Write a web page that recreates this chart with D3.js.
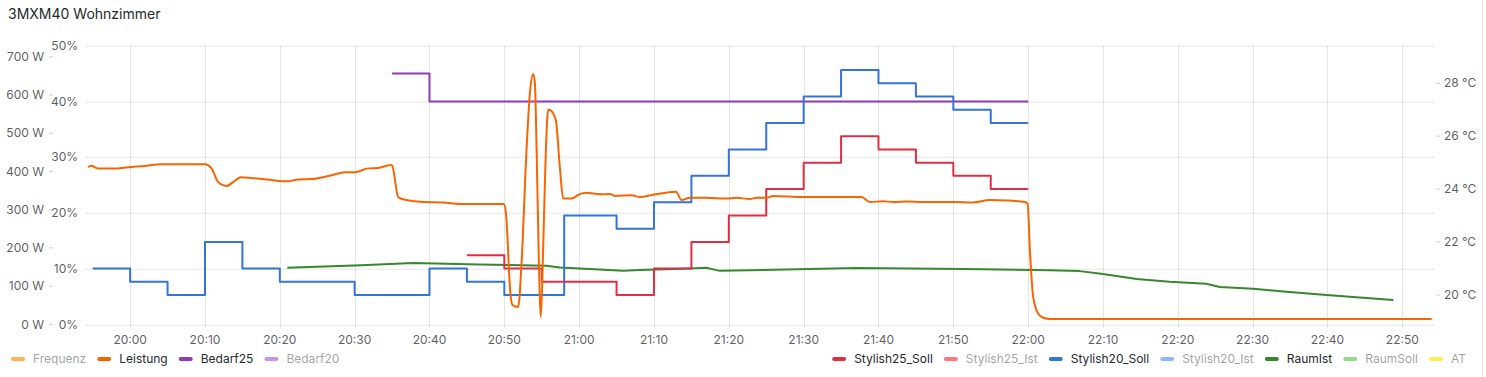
<!DOCTYPE html>
<html>
<head>
<meta charset="utf-8">
<script src="https://cdn.jsdelivr.net/npm/d3@7"></script>
<style>
    body { margin: 0; background: #fff; font-family: Inter, "Open Sans", sans-serif; }
    #chart { width: 1486px; height: 377px; }
</style>
</head>
<body>
<div id="chart"></div>
<script>
// Leistung (W, left axis)
const leistungTimes = ["19:54:23","19:54:47","19:55:43","19:58:11","19:59:44","20:02:11","20:03:58","20:09:59","20:10:53","20:11:46",
    "20:12:53","20:13:46","20:14:47","20:16:13","20:18:40","20:21:02","20:22:25","20:24:14","20:26:55","20:28:41",
    "20:30:02","20:31:49","20:33:08","20:34:50","20:35:01","20:35:49","20:36:29","20:39:09","20:41:50","20:44:04",
    "20:49:56","20:50:13","20:50:50","20:51:06","20:51:51","20:52:18","20:52:58","20:53:25","20:53:51","20:54:05",
    "20:54:19","20:54:35","20:54:53","20:55:11","20:55:33","20:55:52","20:56:11","20:56:53","20:57:25","20:57:52",
    "20:58:59","21:00:00","21:00:59","21:02:46","21:04:07","21:04:46","21:07:00","21:08:07","21:09:53","21:12:56",
    "21:13:41","21:14:48","21:17:00","21:19:42","21:21:00","21:22:49","21:23:43","21:25:03","21:25:56","21:29:56",
    "21:37:44","21:38:51","21:40:38","21:42:00","21:43:46","21:46:00","21:49:59","21:52:40","21:54:53","21:57:07",
    "21:59:34","21:59:56","22:00:14","22:00:40","22:01:20","22:02:01","22:02:54","22:53:55"];
const leistungW = [411,415,408,408,411,415,419,419,408,372,
    362,372,385,383,378,374,379,380,390,398,
    398,408,409,417,415,333,327,320,319,315,
    315,291,76,50,45,160,456,605,655,631,
    456,194,19,194,456,562,560,534,412,329,
    329,340,344,340,341,336,338,333,339,347,
    325,331,331,329,331,328,331,331,336,333,
    333,320,322,320,321,320,320,319,325,324,
    320,314,194,72,28,17,14,14];

// Bedarf25 (%, left inner axis)
const bedarf25Times = ["20:35:00","20:40:00","22:00:00"];
const bedarf25Pct = [45,40,40];

// Stylish25_Soll (°C, right axis), step after
const s25Times = ["20:45:00","20:50:00","20:55:00","21:05:00","21:10:00","21:15:00","21:20:00","21:25:00",
    "21:30:00","21:35:00","21:40:00","21:45:00","21:50:00","21:55:00","22:00:00"];
const s25Soll = [21.5,21,20.5,20,21,22,23,24,25,26,25.5,25,24.5,24,24];

// Stylish20_Soll (°C, right axis), step after
const s20Times = ["19:55:00","20:00:00","20:05:00","20:10:00","20:15:00","20:20:00","20:30:00","20:40:00",
    "20:45:00","20:50:00","20:58:00","21:05:00","21:10:00","21:15:00","21:20:00","21:25:00","21:30:00",
    "21:35:00","21:40:00","21:45:00","21:50:00","21:55:00","22:00:00"];
const s20Soll = [21,20.5,20,22,21,20.5,20,21,20.5,20,23,22.5,23.5,24.5,25.5,26.5,27.5,28.5,28,27.5,27,26.5,26.5];

// RaumIst (°C, right axis)
const raumTimes = ["20:21:00","20:30:54","20:37:48","20:46:42","20:55:36","20:57:24","21:00:06","21:05:54","21:08:06",
    "21:14:48","21:17:00","21:18:48","21:37:06","21:51:18","22:02:54","22:06:54","22:10:00","22:14:30","22:18:54",
    "22:23:48","22:25:36","22:30:06","22:34:30","22:39:54","22:44:18","22:48:48"];
const raumIst = [21.03,21.12,21.21,21.15,21.10,21.04,21.0,20.91,20.94,21.0,21.03,20.91,21.02,20.98,20.93,20.9,
    20.79,20.6,20.5,20.42,20.3,20.23,20.12,20.0,19.9,19.81];

// axis ticks
const wattTicks = [0,100,200,300,400,500,600,700];
const pctTicks = [0,10,20,30,40,50];
const tempTicks = [20,22,24,26,28];

// legend
const legendLeft = [
    {name: "Frequenz", color: "#FFB357", on: false},
    {name: "Leistung", color: "#FA6400", on: true},
    {name: "Bedarf25", color: "#8F3BB8", on: true},
    {name: "Bedarf20", color: "#CA95E5", on: false}
];
const legendRight = [
    {name: "Stylish25_Soll", color: "#E02F44", on: true},
    {name: "Stylish25_Ist", color: "#FF7383", on: false},
    {name: "Stylish20_Soll", color: "#3274D9", on: true},
    {name: "Stylish20_Ist", color: "#8AB8FF", on: false},
    {name: "RaumIst", color: "#37872D", on: true},
    {name: "RaumSoll", color: "#96D98D", on: false},
    {name: "AT", color: "#FFEE52", on: false}
];

class PanelChart {
    constructor(parentElement) {
        this.parentElement = parentElement;
        this.initVis();
    }

    initVis() {
        let vis = this;

        vis.margin = {top: 45.7, right: 51, bottom: 52.7, left: 85};
        vis.totalWidth = 1486;
        vis.totalHeight = 377;
        vis.width = vis.totalWidth - vis.margin.left - vis.margin.right;
        vis.height = vis.totalHeight - vis.margin.top - vis.margin.bottom;

        vis.svg = d3.select("#" + vis.parentElement)
            .append("svg")
            .attr("width", vis.totalWidth)
            .attr("height", vis.totalHeight);

        // panel border on the right
        vis.svg.append("line")
            .attr("x1", 1482.5).attr("x2", 1482.5)
            .attr("y1", 0).attr("y2", vis.totalHeight)
            .attr("stroke", "#e4e4e6");

        vis.svg.append("text")
            .attr("x", 8).attr("y", 19)
            .attr("font-size", 14)
            .attr("font-weight", 400)
            .attr("fill", "#24292e")
            .text("3MXM40 Wohnzimmer");

        vis.g = vis.svg.append("g")
            .attr("transform", `translate(${vis.margin.left}, ${vis.margin.top})`);

        const parse = d3.timeParse("%H:%M:%S");
        vis.parse = parse;

        vis.x = d3.scaleTime()
            .domain([parse("19:53:58"), parse("22:54:22")])
            .range([0, vis.width]);
        vis.yW = d3.scaleLinear().domain([0, 729]).range([vis.height, 0]);
        vis.yPct = d3.scaleLinear().domain([0, 50]).range([vis.height, 0]);
        vis.yTemp = d3.scaleLinear().domain([18.89, 29.42]).range([vis.height, 0]);

        vis.drawAxes();
        vis.drawLines();
        vis.drawLegend();
    }

    drawAxes() {
        let vis = this;
        const labelColor = "rgba(36,41,46,0.75)";

        // horizontal grid from % axis
        vis.g.append("g").selectAll("line")
            .data(pctTicks)
            .join("line")
            .attr("x1", 0).attr("x2", vis.width)
            .attr("y1", d => Math.round(vis.yPct(d)) + 0.5)
            .attr("y2", d => Math.round(vis.yPct(d)) + 0.5)
            .attr("stroke", "rgba(0,0,0,0.1)");

        // vertical grid + x labels
        const xTicks = vis.x.ticks(d3.timeMinute.every(10));
        vis.g.append("g").selectAll("line")
            .data(xTicks)
            .join("line")
            .attr("x1", d => Math.round(vis.x(d)) + 0.5)
            .attr("x2", d => Math.round(vis.x(d)) + 0.5)
            .attr("y1", 0).attr("y2", vis.height + 4)
            .attr("stroke", "rgba(0,0,0,0.1)");

        vis.g.append("g").selectAll("text")
            .data(xTicks)
            .join("text")
            .attr("x", d => vis.x(d))
            .attr("y", vis.height + 20)
            .attr("text-anchor", "middle")
            .attr("font-size", 12)
            .attr("fill", labelColor)
            .text(d3.timeFormat("%H:%M"));

        // W axis (outer left)
        let wAxis = vis.svg.append("g");
        wAxis.selectAll("line")
            .data(wattTicks)
            .join("line")
            .attr("x1", 49).attr("x2", 53)
            .attr("y1", d => vis.margin.top + vis.yW(d))
            .attr("y2", d => vis.margin.top + vis.yW(d))
            .attr("stroke", "rgba(0,0,0,0.2)");
        wAxis.selectAll("text")
            .data(wattTicks)
            .join("text")
            .attr("x", 44)
            .attr("y", d => vis.margin.top + vis.yW(d))
            .attr("dy", "0.35em")
            .attr("text-anchor", "end")
            .attr("font-size", 12)
            .attr("fill", labelColor)
            .text(d => d + " W");

        // % axis (inner left)
        vis.svg.append("g").selectAll("text")
            .data(pctTicks)
            .join("text")
            .attr("x", 78)
            .attr("y", d => vis.margin.top + vis.yPct(d))
            .attr("dy", "0.35em")
            .attr("text-anchor", "end")
            .attr("font-size", 12)
            .attr("fill", labelColor)
            .text(d => d + "%");

        // °C axis (right)
        let tAxis = vis.svg.append("g");
        const xr = vis.margin.left + vis.width;
        tAxis.selectAll("line")
            .data(tempTicks)
            .join("line")
            .attr("x1", xr + 1).attr("x2", xr + 5)
            .attr("y1", d => vis.margin.top + vis.yTemp(d))
            .attr("y2", d => vis.margin.top + vis.yTemp(d))
            .attr("stroke", "rgba(0,0,0,0.2)");
        tAxis.selectAll("text")
            .data(tempTicks)
            .join("text")
            .attr("x", xr + 9)
            .attr("y", d => vis.margin.top + vis.yTemp(d))
            .attr("dy", "0.35em")
            .attr("font-size", 12)
            .attr("fill", labelColor)
            .text(d => d + " °C");
    }

    drawLines() {
        let vis = this;

        const series = [
            {times: raumTimes, values: raumIst, y: vis.yTemp, color: "#37872D", curve: d3.curveLinear},
            {times: bedarf25Times, values: bedarf25Pct, y: vis.yPct, color: "#8F3BB8", curve: d3.curveStepAfter},
            {times: s20Times, values: s20Soll, y: vis.yTemp, color: "#3274D9", curve: d3.curveStepAfter},
            {times: s25Times, values: s25Soll, y: vis.yTemp, color: "#E02F44", curve: d3.curveStepAfter},
            {times: leistungTimes, values: leistungW, y: vis.yW, color: "#FA6400", curve: d3.curveMonotoneX}
        ];

        series.forEach(s => {
            const pts = s.times.map((t, i) => ({t: vis.parse(t), v: s.values[i]}));
            const line = d3.line()
                .x(d => vis.x(d.t))
                .y(d => s.y(d.v))
                .curve(s.curve);
            vis.g.append("path")
                .datum(pts)
                .attr("d", line)
                .attr("fill", "none")
                .attr("stroke", s.color)
                .attr("stroke-width", 2)
                .attr("stroke-linejoin", "round");
        });
    }

    drawLegend() {
        let vis = this;
        const y = 359;

        const addItems = (items, startX) => {
            let x = startX;
            items.forEach(item => {
                vis.svg.append("rect")
                    .attr("x", x).attr("y", y - 2)
                    .attr("width", 14).attr("height", 4)
                    .attr("rx", 2)
                    .attr("fill", item.color);
                let txt = vis.svg.append("text")
                    .attr("x", x + 22).attr("y", y)
                    .attr("dy", "0.35em")
                    .attr("font-size", 12)
                    .attr("fill", item.on ? "#24292e" : "rgba(36,41,46,0.45)")
                    .text(item.name);
                x += 22 + txt.node().getComputedTextLength() + 11;
            });
            return x;
        };

        addItems(legendLeft, 11);

        // right group: measure first, then place so it ends near the panel edge
        let probe = vis.svg.append("g").attr("opacity", 0);
        let w = 0;
        legendRight.forEach(item => {
            let t = probe.append("text").attr("font-size", 12).text(item.name);
            w += 22 + t.node().getComputedTextLength() + 11;
        });
        probe.remove();
        addItems(legendRight, 1477 - w);
    }
}

new PanelChart("chart");
</script>
</body>
</html>
